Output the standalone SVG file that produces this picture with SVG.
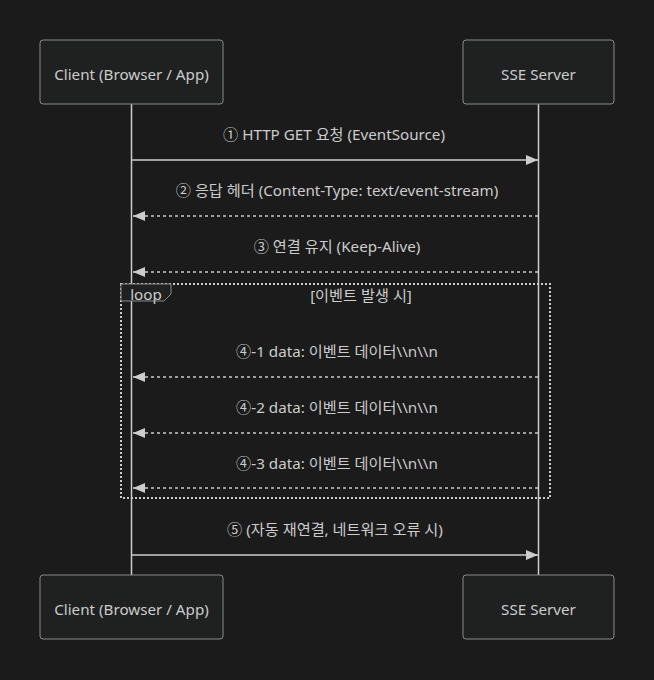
<svg xmlns="http://www.w3.org/2000/svg" width="654" height="680" viewBox="0 0 654 680">
<defs>
<marker id="arr" markerWidth="12" markerHeight="10" refX="12" refY="5" orient="auto" markerUnits="userSpaceOnUse">
<path d="M0,0 L12,5 L0,10 z" fill="#cccccc"/>
</marker>
<style>
text{font-family:"Noto Sans","Noto Sans CJK KR",sans-serif;fill:#cccccc;font-size:15.2px;text-anchor:middle}
.actor{fill:#1f2020;stroke:#8a8a8a;stroke-width:1}
.life{stroke:#cccccc;stroke-width:1.5}
.msg{stroke:#cccccc;stroke-width:1.5;fill:none}
.dash{stroke-dasharray:3,3}
.loop{fill:none;stroke:#cccccc;stroke-width:2;stroke-dasharray:2,2}
</style>
</defs>
<rect width="654" height="680" fill="#1b1b1b"/>
<g id="lifelines">
<line class="life" x1="131.5" y1="104" x2="131.5" y2="575"/>
<line class="life" x1="538.5" y1="104" x2="538.5" y2="575"/>
</g>
<g id="client-top"><rect class="actor" x="40" y="40" width="183" height="64" rx="3"/><text x="131.5" y="80">Client (Browser / App)</text></g>
<g id="server-top"><rect class="actor" x="463" y="40" width="151" height="64" rx="3"/><text x="538.5" y="80">SSE Server</text></g>
<g id="client-bottom"><rect class="actor" x="40" y="575" width="183" height="64" rx="3"/><text x="131.5" y="615">Client (Browser / App)</text></g>
<g id="server-bottom"><rect class="actor" x="463" y="575" width="151" height="64" rx="3"/><text x="538.5" y="615">SSE Server</text></g>
<g id="loop">
<rect class="loop" x="121" y="284" width="429" height="214"/>
<path d="M121,284 H171 V294 L164,301 H121 Z" fill="#1f2020" stroke="#8a8a8a" stroke-width="1"/>
<text x="146" y="300">loop</text>
<text x="361" y="301">[이벤트 발생 시]</text>
</g>
<g id="connectors">
<line class="msg" x1="132" y1="160" x2="538" y2="160" marker-end="url(#arr)"/>
<line class="msg dash" x1="538" y1="216" x2="133" y2="216" marker-end="url(#arr)"/>
<line class="msg dash" x1="538" y1="272" x2="133" y2="272" marker-end="url(#arr)"/>
<line class="msg dash" x1="538" y1="377" x2="133" y2="377" marker-end="url(#arr)"/>
<line class="msg dash" x1="538" y1="433" x2="133" y2="433" marker-end="url(#arr)"/>
<line class="msg dash" x1="538" y1="488" x2="133" y2="488" marker-end="url(#arr)"/>
<line class="msg" x1="132" y1="555" x2="538" y2="555" marker-end="url(#arr)"/>
</g>
<g id="labels">
<text x="334" y="140">① HTTP GET 요청 (EventSource)</text>
<text x="337" y="196">② 응답 헤더 (Content-Type: text/event-stream)</text>
<text x="337" y="252">③ 연결 유지 (Keep-Alive)</text>
<text x="337" y="357">④-1 data: 이벤트 데이터\\n\\n</text>
<text x="337" y="413">④-2 data: 이벤트 데이터\\n\\n</text>
<text x="337" y="469">④-3 data: 이벤트 데이터\\n\\n</text>
<text x="335" y="535">⑤ (자동 재연결, 네트워크 오류 시)</text>
</g>
</svg>
